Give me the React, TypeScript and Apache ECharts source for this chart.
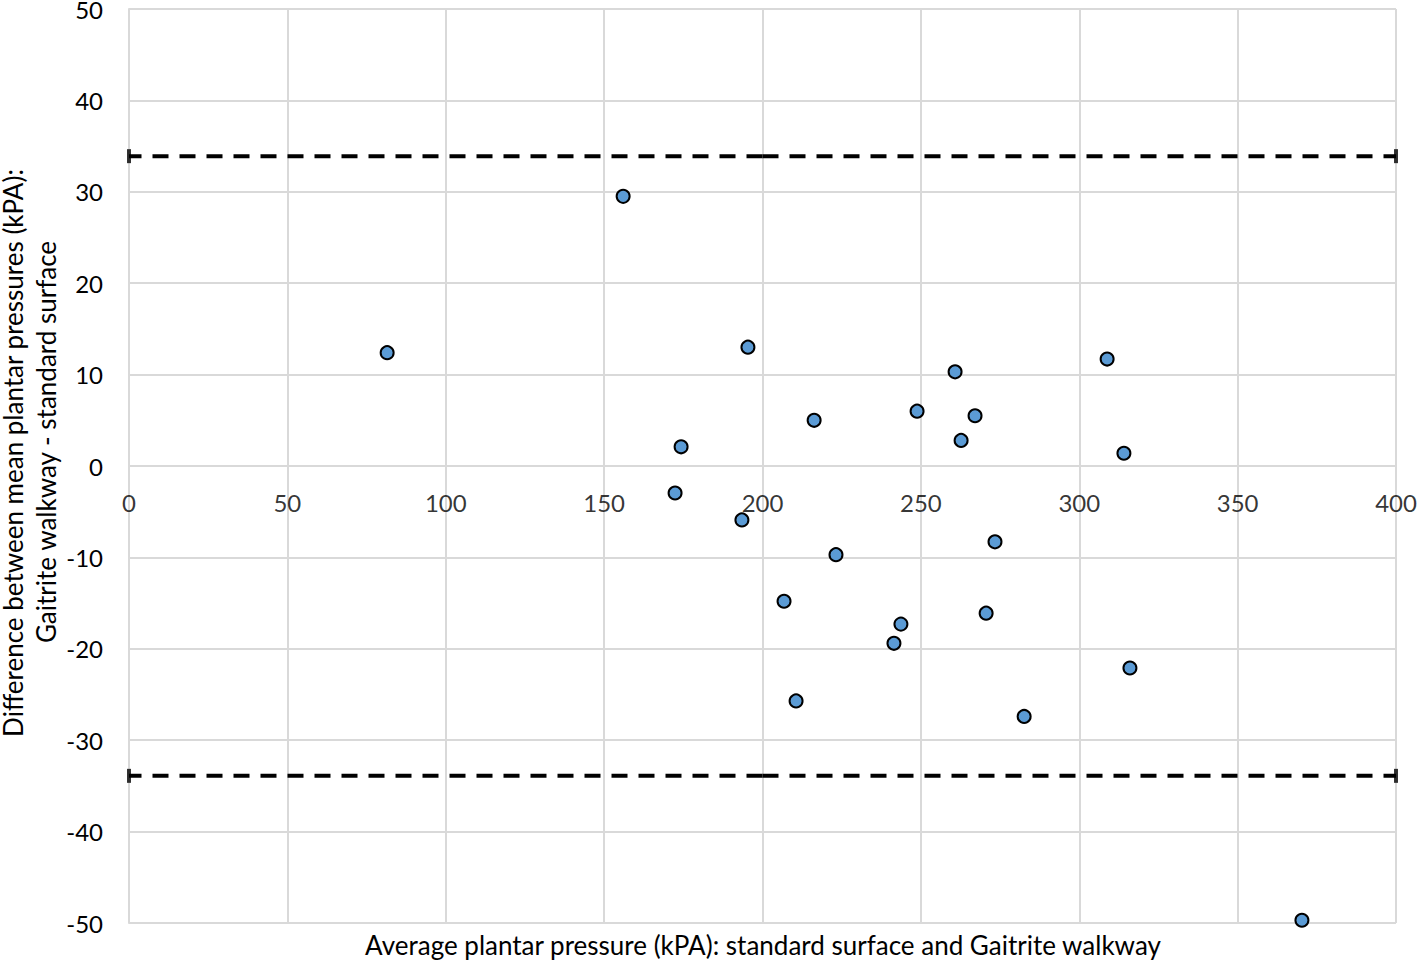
import React, { useEffect, useRef } from "react";
import * as echarts from "echarts";

const avgPressure = [81.5, 156, 174.3, 172.4, 195.4, 193.5, 216.3, 223.2, 206.8, 210.6, 248.8, 260.8, 267.1, 262.7, 243.7, 241.5, 273.4, 270.6, 282.6, 308.8, 314.1, 316.0, 370.3];
const diffPressure = [12.4, 29.5, 2.1, -2.95, 13.0, -5.9, 5.0, -9.7, -14.8, -25.7, 6.0, 10.3, 5.5, 2.8, -17.3, -19.4, -8.3, -16.1, -27.4, 11.7, 1.4, -22.1, -49.7];
const upperLimit = 33.9;
const lowerLimit = -33.9;
const limitCenterX = 200;
const limitEndsX = [0, 400];
const xTicks = [0, 50, 100, 150, 200, 250, 300, 350, 400];
const xTitle = "Average plantar pressure (kPA): standard surface and Gaitrite walkway";
const yTitleLines = ["Difference between mean plantar pressures (kPA):", "Gaitrite walkway - standard surface"];

export default function App() {
  const ref = useRef<HTMLDivElement>(null);
  useEffect(() => {
    const chart = echarts.init(ref.current!, null, { renderer: "svg" });
    const font = "Lato, 'Liberation Sans', sans-serif";
    const dashStyle = { color: "#000", width: 4, type: [16, 11] as number[] };
    const limitSeries: any[] = [];
    [upperLimit, lowerLimit].forEach((lim) => {
      limitEndsX.forEach((endX) => {
        limitSeries.push({
          type: "line",
          data: [[limitCenterX, lim], [endX, lim]],
          symbol: "none",
          lineStyle: dashStyle,
          silent: true,
          z: 3,
        });
      });
    });
    chart.setOption({
      animation: false,
      textStyle: { fontFamily: font },
      grid: { left: 129, right: 21, top: 9, bottom: 38, containLabel: false, outerBoundsMode: "none" },
      xAxis: {
        type: "value",
        min: 0,
        max: 400,
        interval: 50,
        axisLine: { show: false },
        axisTick: { show: false },
        axisLabel: { show: false },
        splitLine: { show: true, lineStyle: { color: "#d9d9d9", width: 2 } },
      },
      yAxis: {
        type: "value",
        min: -50,
        max: 50,
        interval: 10,
        axisLine: { show: true, onZero: false, lineStyle: { color: "#d9d9d9", width: 2 } },
        axisTick: { show: false },
        axisLabel: { color: "#000", fontSize: 24, fontFamily: font, margin: 26 },
        splitLine: { show: true, lineStyle: { color: "#d9d9d9", width: 2 } },
      },
      graphic: [
        {
          type: "text",
          x: 763,
          y: 945,
          style: { text: xTitle, fill: "#000", fontSize: 26, fontFamily: font, align: "center", verticalAlign: "middle" },
        },
        {
          type: "text",
          x: 13,
          y: 453,
          rotation: Math.PI / 2,
          style: { text: yTitleLines[0], fill: "#000", fontSize: 26, fontFamily: font, align: "center", verticalAlign: "middle" },
        },
        {
          type: "text",
          x: 46,
          y: 442,
          rotation: Math.PI / 2,
          style: { text: yTitleLines[1], fill: "#000", fontSize: 26, fontFamily: font, align: "center", verticalAlign: "middle" },
        },
      ],
      series: [
        {
          type: "scatter",
          data: xTicks.map((v) => [v, 0]),
          symbolSize: 0,
          silent: true,
          label: {
            show: true,
            position: "bottom",
            distance: 24,
            color: "#000",
            fontSize: 24,
            fontFamily: font,
            formatter: (p: any) => String(p.value[0]),
          },
          z: 2,
        },
        ...limitSeries,
        {
          type: "scatter",
          data: [upperLimit, lowerLimit].flatMap((lim) => limitEndsX.map((x) => [x, lim])),
          symbol: "rect",
          symbolSize: [4, 14],
          itemStyle: { color: "#000" },
          silent: true,
          z: 4,
        },
        {
          type: "scatter",
          data: avgPressure.map((x, i) => [x, diffPressure[i]]),
          symbol: "circle",
          symbolSize: 13,
          itemStyle: { color: "#5b9bd5", borderColor: "#000", borderWidth: 2, opacity: 1 },
          z: 5,
        },
      ],
    });
    return () => chart.dispose();
  }, []);
  return <div ref={ref} style={{ width: 1417, height: 961, position: "absolute", left: 0, top: 0 }} />;
}
